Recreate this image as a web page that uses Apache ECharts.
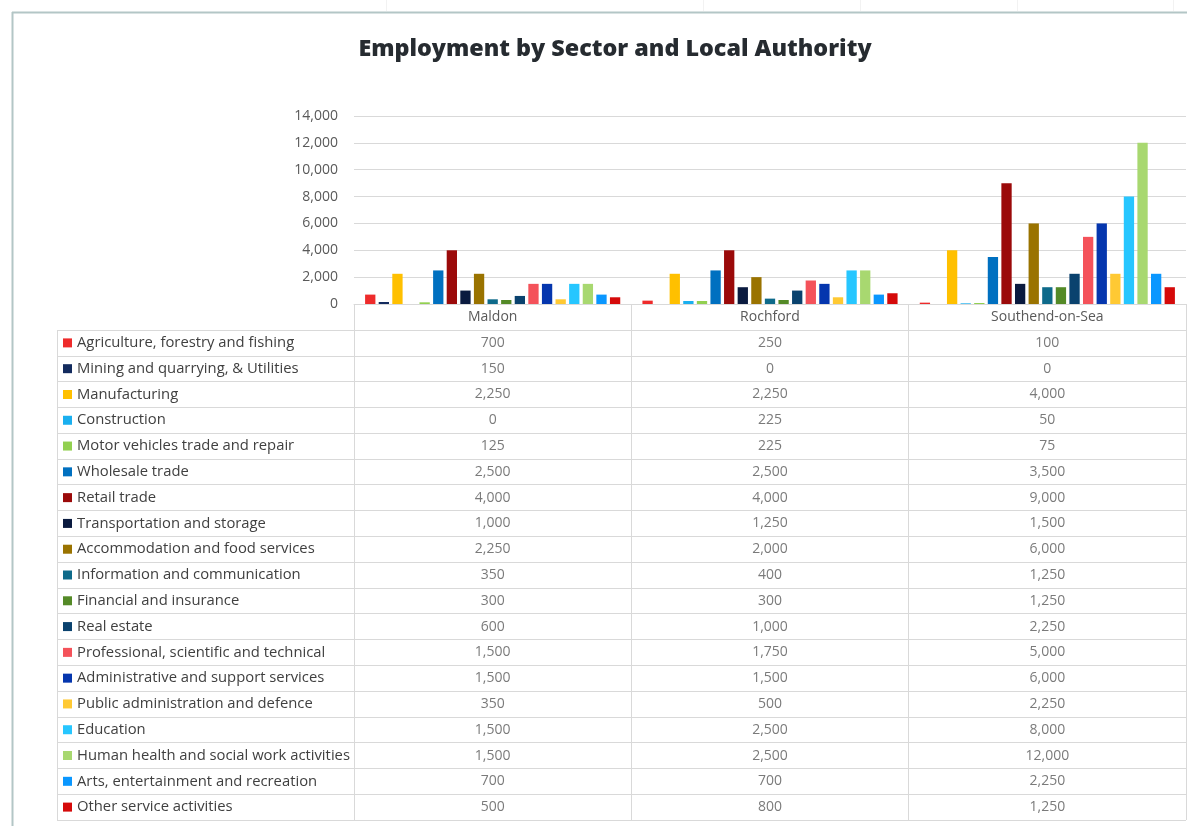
<!DOCTYPE html>
<html>
<head>
<meta charset="utf-8">
<script src="https://cdn.jsdelivr.net/npm/echarts@6/dist/echarts.min.js"></script>
<style>
html,body{margin:0;padding:0;background:#fff;}
#c{width:1187px;height:826px;}
</style>
</head>
<body>
<div id="c"></div>
<script>
const authorities = ['Maldon', 'Rochford', 'Southend-on-Sea'];
const sectors = [
  'Agriculture, forestry and fishing',
  'Mining and quarrying, & Utilities',
  'Manufacturing',
  'Construction',
  'Motor vehicles trade and repair',
  'Wholesale trade',
  'Retail trade',
  'Transportation and storage',
  'Accommodation and food services',
  'Information and communication',
  'Financial and insurance',
  'Real estate',
  'Professional, scientific and technical',
  'Administrative and support services',
  'Public administration and defence',
  'Education',
  'Human health and social work activities',
  'Arts, entertainment and recreation',
  'Other service activities'
];
const maldon   = [700, 150, 2250, 0, 125, 2500, 4000, 1000, 2250, 350, 300, 600, 1500, 1500, 350, 1500, 1500, 700, 500];
const rochford = [250, 0, 2250, 225, 225, 2500, 4000, 1250, 2000, 400, 300, 1000, 1750, 1500, 500, 2500, 2500, 700, 800];
const southend = [100, 0, 4000, 50, 75, 3500, 9000, 1500, 6000, 1250, 1250, 2250, 5000, 6000, 2250, 8000, 12000, 2250, 1250];
const yMin = 0, yMax = 14000, yStep = 2000;

const colors = ['#EE2B2B', '#132B5E', '#FFC000', '#1AAFEF', '#92D050', '#0070C0', '#9B0A0A', '#0A1A3F', '#9A7300',
  '#0E6A8A', '#548A27', '#0A426E', '#F4525A', '#0536AE', '#FFC933', '#26C6FF', '#A8D870', '#0A97FF', '#D50A0A'];

const byAuthority = [maldon, rochford, southend];
const FONT = 'Open Sans';
const fmt = v => Number(v).toLocaleString('en-US');
const lineCol = '#d9d9d9';

const barSeries = sectors.map((s, i) => ({
  name: s,
  type: 'bar',
  xAxisIndex: 0,
  yAxisIndex: 0,
  barCategoryGap: '8%',
  barGap: '32%',
  itemStyle: { color: colors[i] },
  data: byAuthority.map(a => a[i])
}));

const cellData = [];
byAuthority.forEach((a, j) => a.forEach((v, i) => cellData.push([j, i, v])));

const rich = { t: { fontFamily: FONT, fontSize: 14.8, color: '#404040', padding: [0, 0, 0, 5] } };
colors.forEach((c, i) => { rich['s' + i] = { width: 9, height: 9, lineHeight: 9, backgroundColor: c }; });

const chart = echarts.init(document.getElementById('c'), null, { renderer: 'canvas' });
chart.setOption({
  animation: false,
  backgroundColor: '#fff',
  title: {
    text: 'Employment by Sector and Local Authority',
    left: 610, top: 33, textAlign: 'center',
    textStyle: { fontFamily: FONT, fontSize: 23.3, fontWeight: 800, color: '#262b30' }
  },
  graphic: [
    { type: 'line', shape: { x1: 12, y1: 12.5, x2: 1187, y2: 12.5 }, style: { stroke: '#b3c6c6', lineWidth: 2 } },
    { type: 'line', shape: { x1: 12.5, y1: 12, x2: 12.5, y2: 826 }, style: { stroke: '#b3c6c6', lineWidth: 2 } },
    { type: 'line', shape: { x1: 386.5, y1: 0, x2: 386.5, y2: 11 }, style: { stroke: '#f2f2f2', lineWidth: 1 } },
    { type: 'line', shape: { x1: 703.5, y1: 0, x2: 703.5, y2: 11 }, style: { stroke: '#f2f2f2', lineWidth: 1 } },
    { type: 'line', shape: { x1: 860.5, y1: 0, x2: 860.5, y2: 11 }, style: { stroke: '#f2f2f2', lineWidth: 1 } },
    { type: 'line', shape: { x1: 1017.5, y1: 0, x2: 1017.5, y2: 11 }, style: { stroke: '#f2f2f2', lineWidth: 1 } },
    { type: 'line', shape: { x1: 1173.5, y1: 0, x2: 1173.5, y2: 11 }, style: { stroke: '#f2f2f2', lineWidth: 1 } }
  ],
  grid: [
    { left: 354, right: 1, top: 116, height: 188 },
    { left: 354, right: 1, top: 330, height: 490 },
    { left: 57, width: 297, top: 330, height: 490 }
  ],
  xAxis: [
    {
      type: 'category', gridIndex: 0, data: authorities,
      axisLine: { lineStyle: { color: lineCol } },
      axisTick: { show: true, length: 26, interval: 0, lineStyle: { color: lineCol } },
      axisLabel: { margin: 6, interval: 0, fontFamily: FONT, fontSize: 14, color: '#595959' }
    },
    {
      type: 'category', gridIndex: 1, data: authorities,
      axisLine: { show: false }, axisTick: { show: false }, axisLabel: { show: false },
      splitLine: { show: true, interval: 0, lineStyle: { color: lineCol } }
    },
    {
      type: 'category', gridIndex: 2, data: [''],
      axisLine: { show: false }, axisTick: { show: false }, axisLabel: { show: false },
      splitLine: { show: true, interval: 0, lineStyle: { color: lineCol } }
    }
  ],
  yAxis: [
    {
      type: 'value', gridIndex: 0, min: yMin, max: yMax, interval: yStep,
      axisLine: { show: false }, axisTick: { show: false },
      splitLine: { lineStyle: { color: lineCol } },
      axisLabel: { margin: 16, fontFamily: FONT, fontSize: 14, color: '#595959', formatter: v => fmt(v) }
    },
    {
      type: 'category', gridIndex: 1, data: sectors, inverse: true,
      axisLine: { show: false }, axisTick: { show: false }, axisLabel: { show: false },
      splitLine: { show: true, interval: 0, lineStyle: { color: lineCol } }
    },
    {
      type: 'category', gridIndex: 2, data: sectors, inverse: true,
      axisLine: { show: false }, axisTick: { show: false },
      splitLine: { show: true, interval: 0, lineStyle: { color: lineCol } },
      axisLabel: {
        inside: true, margin: 6, interval: 0,
        formatter: (v, idx) => '{s' + idx + '|}{t|' + v + '}',
        rich: rich
      }
    }
  ],
  series: barSeries.concat([{
    type: 'scatter',
    xAxisIndex: 1, yAxisIndex: 1,
    symbolSize: 0,
    silent: true,
    data: cellData,
    label: {
      show: true, position: 'inside',
      fontFamily: FONT, fontSize: 14, color: '#595959',
      formatter: p => fmt(p.value[2])
    }
  }])
});
</script>
</body>
</html>
